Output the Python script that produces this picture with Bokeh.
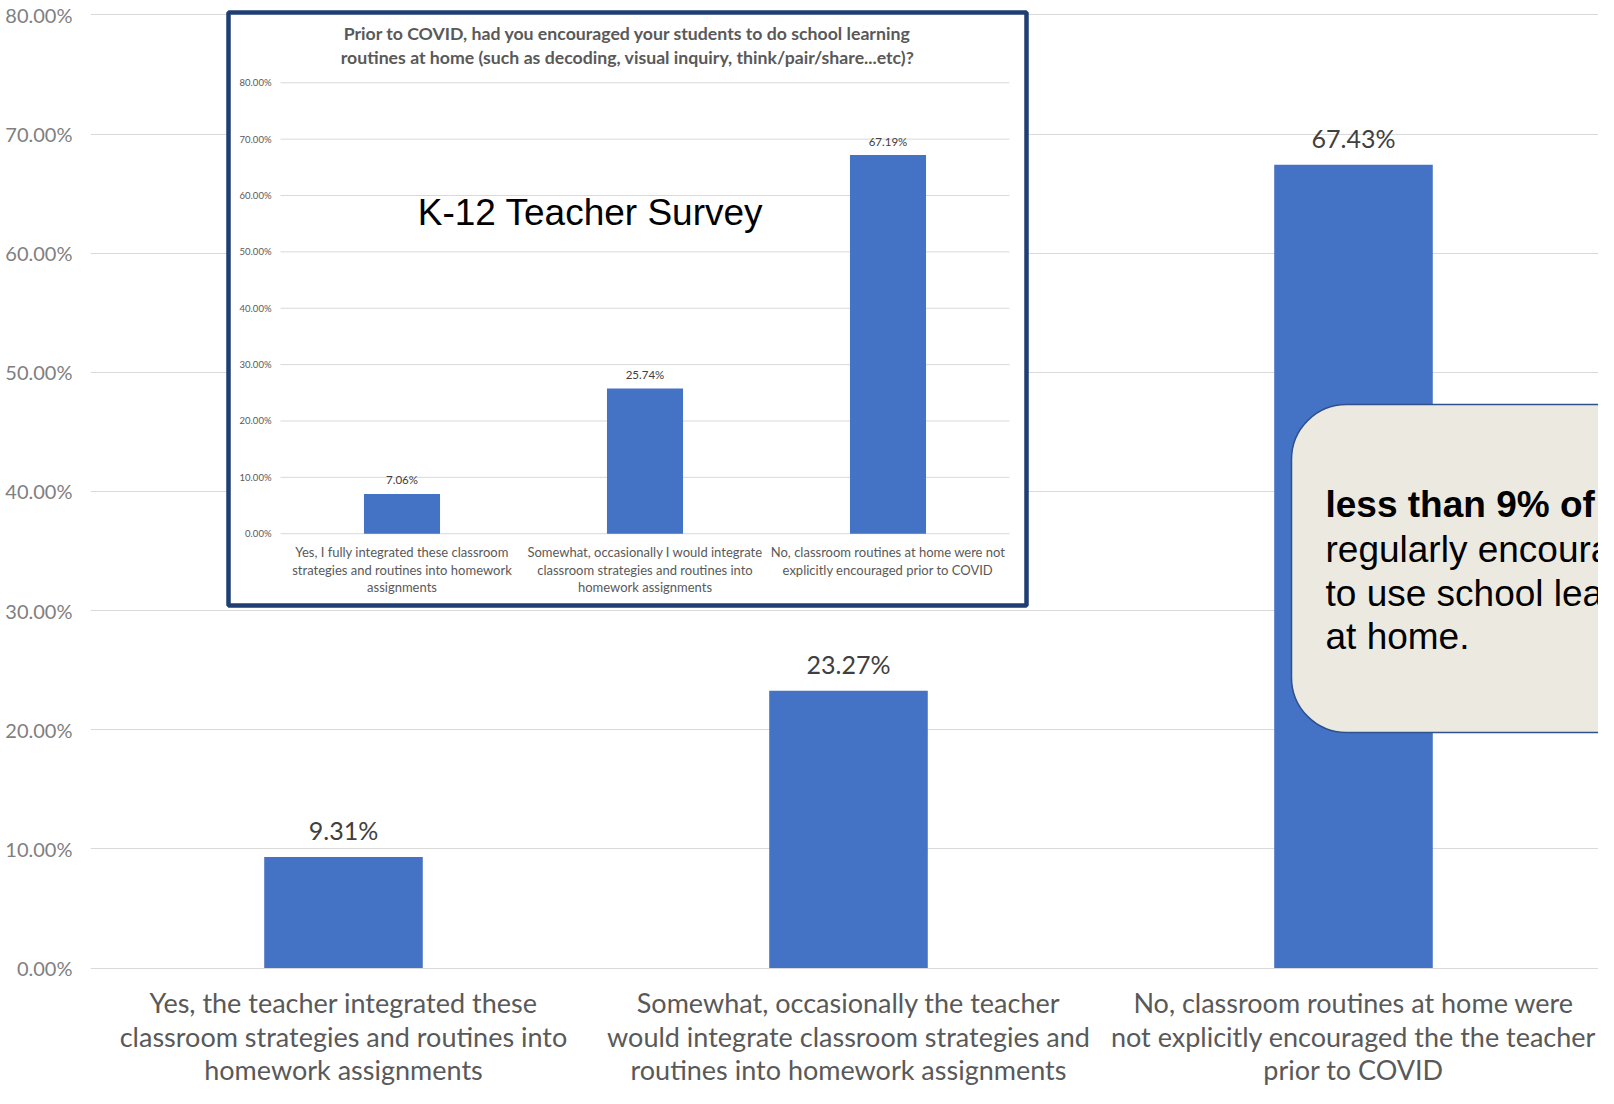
from bokeh.plotting import figure
from bokeh.models import Range1d, FixedTicker, LinearScale
from bokeh.core.properties import value
from bokeh.embed import file_html
from bokeh.resources import INLINE

# ---------------- data ----------------
main_categories = ["Yes", "Somewhat", "No"]
main_labels = [
    "Yes, the teacher integrated these\nclassroom strategies and routines into\nhomework assignments",
    "Somewhat, occasionally the teacher\nwould integrate classroom strategies and\nroutines into homework assignments",
    "No, classroom routines at home were\nnot explicitly encouraged the the teacher\nprior to COVID",
]
main_values = [9.31, 23.27, 67.43]
main_value_labels = ["9.31%", "23.27%", "67.43%"]

y_ticks = [0, 10, 20, 30, 40, 50, 60, 70, 80]
y_tick_labels = ["0.00%", "10.00%", "20.00%", "30.00%", "40.00%",
                 "50.00%", "60.00%", "70.00%", "80.00%"]

inset_title_lines = [
    "Prior to COVID, had you encouraged your students to do school learning",
    "routines at home (such as decoding, visual inquiry, think/pair/share...etc)?",
]
inset_categories = ["Yes, fully", "Somewhat, occasionally", "No"]
inset_labels = [
    "Yes, I fully integrated these classroom\nstrategies and routines into homework\nassignments",
    "Somewhat, occasionally I would integrate\nclassroom strategies and routines into\nhomework assignments",
    "No, classroom routines at home were not\nexplicitly encouraged prior to COVID",
]
inset_values = [7.06, 25.74, 67.19]
inset_value_labels = ["7.06%", "25.74%", "67.19%"]

overlay_title = "K-12 Teacher Survey"
callout_bold = "less than 9% of teachers"
callout_lines = ["regularly encouraged students", "to use school learning routines", "at home."]

# category slots (centre of each category band on the category axis)
main_x = [i + 0.5 for i in range(len(main_categories))]
inset_x = [i + 0.5 for i in range(len(inset_categories))]

# ---------------- layout helpers (picture pixels -> parent coordinates) ----------------
W, H = 1598, 1088
FRAME_L = 90       # left border (y axis room)
UNIT = 505.0       # px per category
FIRST = 343.0      # x of first category centre
K = (967.5 - 14.4) / 80.0   # px per percent
Y0 = 967.5         # y of 0%


def dx(px):
    return 0.5 + (px - FIRST) / UNIT


def dy(py):
    return (Y0 - py) / K


p = figure(
    width=W, height=H,
    x_range=Range1d(dx(FRAME_L), dx(W)),
    y_range=Range1d(dy(H), dy(0)),
    x_axis_location=None,
    output_backend="svg", toolbar_location=None,
    min_border_left=FRAME_L, min_border_right=0, min_border_top=0, min_border_bottom=0,
)
p.outline_line_color = None
p.background_fill_color = "white"
p.border_fill_color = "white"

# y axis
ax = p.yaxis[0]
ax.ticker = FixedTicker(ticks=y_ticks)
ax.major_label_overrides = {t: l for t, l in zip(y_ticks, y_tick_labels)}
ax.axis_line_color = None
ax.major_tick_line_color = None
ax.major_tick_out = 0
ax.major_tick_in = 0
ax.minor_tick_line_color = None
ax.minor_tick_out = 0
ax.minor_tick_in = 0
ax.major_label_standoff = 18
ax.major_label_text_font = "Lato"
ax.major_label_text_font_size = "20px"
ax.major_label_text_color = "#7F7F7F"

p.xgrid.visible = False
p.ygrid.ticker = FixedTicker(ticks=y_ticks)
p.ygrid.grid_line_color = "#D9D9D9"
p.ygrid.grid_line_width = 1.2

BLUE = "#4472C4"

# main bars
p.vbar(x=main_x, top=main_values, width=0.314, fill_color=BLUE, line_color=None)
p.text(x=main_x, y=main_values, text=main_value_labels,
       text_align="center", text_baseline="middle", y_offset=-27,
       text_font=value("Lato"), text_font_size="25px", text_color="#404040")
p.text(x=main_x, y=[y_ticks[0]] * 3, text=main_labels,
       text_align="center", text_baseline="top", y_offset=18, text_line_height=1.02,
       text_font=value("Lato"), text_font_size="27px", text_color="#595959")

# ---------------- inset chart ----------------
p.quad(left=[dx(228)], right=[dx(1026)], top=[dy(12)], bottom=[dy(605)],
       fill_color="white", line_color="#1F3F74", line_width=4.5)

sub = p.subplot(
    x_source=Range1d(0, len(inset_categories)), x_scale=LinearScale(),
    y_source=Range1d(0, 80), y_scale=LinearScale(),
    x_target=Range1d(dx(280), dx(1009)),
    y_target=Range1d(dy(533.2), dy(82.3)),
)
sub.segment(x0=0, x1=len(inset_categories), y0=y_ticks, y1=y_ticks,
            line_color="#D9D9D9", line_width=1)
sub.text(x=0, y=y_ticks, text=y_tick_labels, text_align="right", text_baseline="middle",
         x_offset=-9, text_font=value("Lato"), text_font_size="9.5px", text_color="#595959")
sub.vbar(x=inset_x, top=inset_values, width=0.313, fill_color=BLUE, line_color=None)
sub.text(x=inset_x, y=inset_values, text=inset_value_labels,
         text_align="center", text_baseline="middle", y_offset=-14,
         text_font=value("Lato"), text_font_size="11.5px", text_color="#404040")
sub.text(x=inset_x, y=[0] * 3, text=inset_labels,
         text_align="center", text_baseline="top", y_offset=10.5, text_line_height=1.09,
         text_font=value("Lato"), text_font_size="13px", text_color="#595959")

p.text(x=[dx(627)] * 2, y=[dy(33), dy(56.6)], text=inset_title_lines,
       text_align="center", text_baseline="middle",
       text_font=value("Lato"), text_font_size="17.7px", text_font_style="bold",
       text_color="#595959")

p.text(x=[dx(590)], y=[dy(212)], text=[overlay_title], text_align="center",
       text_baseline="middle", text_font=value("Liberation Sans"),
       text_font_size="37px", text_color="black")

# ---------------- callout ----------------
p.quad(left=[dx(1291)], right=[dx(1750)], top=[dy(404)], bottom=[dy(732)],
       border_radius=55, fill_color="#ECEAE0", line_color="#2F528F", line_width=1.5)
p.text(x=[dx(1325)], y=[dy(504.4)], text=[callout_bold], text_align="left",
       text_baseline="middle", text_font=value("Liberation Sans"), text_font_size="37px",
       text_font_style="bold", text_color="black")
p.text(x=[dx(1325)] * 3, y=[dy(548.6), dy(592.9), dy(636)], text=callout_lines,
       text_align="left", text_baseline="middle", text_font=value("Liberation Sans"),
       text_font_size="37px", text_color="black")

open("out.html", "w").write(file_html(p, INLINE))
